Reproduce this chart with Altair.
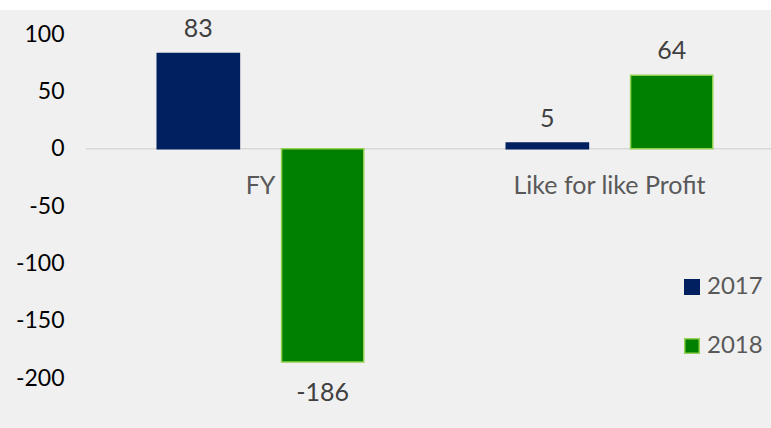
import altair as alt
import pandas as pd

categories = ["FY", "Like for like Profit"]
years = ["2017", "2018"]
values_2017 = [83, 5]
values_2018 = [-186, 64]
y_ticks = [-200, -150, -100, -50, 0, 50, 100]

rows = []
for c, v in zip(categories, values_2017):
    rows.append({"category": c, "year": "2017", "value": v})
for c, v in zip(categories, values_2018):
    rows.append({"category": c, "year": "2018", "value": v})
df = pd.DataFrame(rows)
df["label"] = df["value"].astype(str)
cat_df = pd.DataFrame({"category": categories})
zero_df = pd.DataFrame({"value": [0]})

FONT = "Lato"
W, H = 685, 344

x_enc = alt.X("category:N", scale=alt.Scale(domain=categories, range=[0, 698],
                                             paddingInner=0, paddingOuter=0), axis=None)
xo_enc = alt.XOffset("year:N", scale=alt.Scale(domain=years, paddingInner=0.339, paddingOuter=0.573))
y_scale = alt.Scale(domain=[-200, 100], nice=False, zero=False)
y_axis = alt.Axis(values=y_ticks, title=None, ticks=False, domain=False, grid=False,
                  labelFontSize=23, labelColor="#000000", labelFont=FONT,
                  labelPadding=22, zindex=2, labelExpr="'' + datum.value")
y_enc = alt.Y("value:Q", scale=y_scale, axis=y_axis)

bg = alt.Chart(pd.DataFrame({"a": [0]})).mark_rect(color="#f0f0f0").encode(
    x=alt.value(-86), x2=alt.value(W), y=alt.value(-24), y2=alt.value(H + 50)
)

zero = alt.Chart(zero_df).mark_rule(color="#d9d9d9", strokeWidth=1.5).encode(
    y=y_enc, x=alt.value(0), x2=alt.value(W)
)

bars = alt.Chart(df).mark_bar(strokeWidth=1.5).encode(
    x=x_enc, xOffset=xo_enc,
    y=y_enc,
    color=alt.Color("year:N", scale=alt.Scale(domain=years, range=["#002060", "#008000"]),
                    legend=alt.Legend(title=None, orient="none", legendX=594, legendY=241,
                                      symbolType="square", symbolSize=210, symbolStrokeWidth=1.5,
                                      labelFontSize=24, labelColor="#595959", labelFont=FONT,
                                      rowPadding=35, labelOffset=3, padding=0, zindex=2)),
    stroke=alt.Stroke("year:N", scale=alt.Scale(domain=years, range=["#002060", "#92d050"]),
                      legend=None),
)

pos_labels = alt.Chart(df).transform_filter("datum.value >= 0").mark_text(
    dy=-24, baseline="middle", fontSize=25, color="#404040", font=FONT
).encode(x=x_enc, xOffset=xo_enc, y=y_enc, text="label:N")

neg_labels = alt.Chart(df).transform_filter("datum.value < 0").mark_text(
    dy=31, baseline="middle", fontSize=25, color="#404040", font=FONT
).encode(x=x_enc, xOffset=xo_enc, y=y_enc, text="label:N")

cat_labels = alt.Chart(cat_df).mark_text(
    baseline="middle", fontSize=25, color="#595959", font=FONT
).encode(x=x_enc, y=alt.value(152), text="category:N")

chart = alt.layer(bg, zero, bars, pos_labels, neg_labels, cat_labels).resolve_scale(
    color="independent", stroke="independent"
).properties(
    width=W, height=H,
    autosize=alt.AutoSizeParams(type="none"),
    padding={"left": 86, "top": 34, "right": 0, "bottom": 50},
    background="white",
).configure_view(stroke=None)

chart.save("out.html", embed_options={"renderer": "svg", "actions": False})
